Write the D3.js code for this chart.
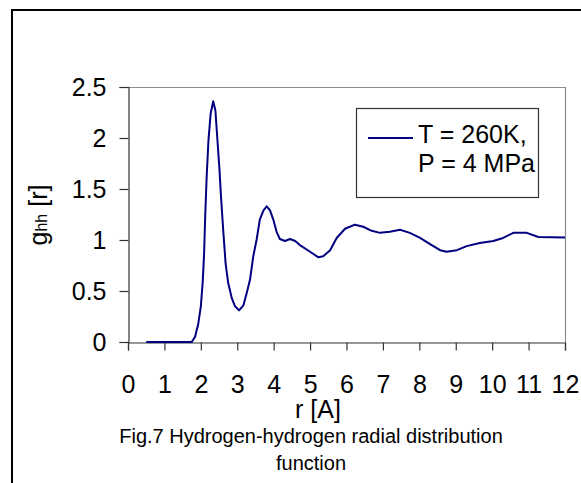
<!DOCTYPE html>
<html>
<head>
<meta charset="utf-8">
<script src="https://cdn.jsdelivr.net/npm/d3@7"></script>
<style>
  body { margin: 0; background: #fff; }
  svg { display: block; font-family: "Liberation Sans", Arial, sans-serif; }
</style>
</head>
<body>
<div id="chart"></div>
<script>
// r in Angstrom, g_hh(r)
let rVals = [0.5, 1.75, 1.84, 1.93, 2.0, 2.05, 2.09, 2.12, 2.16, 2.21, 2.27, 2.34, 2.40, 2.45, 2.51, 2.56, 2.62, 2.68, 2.75, 2.85, 2.94, 3.05, 3.17, 3.26, 3.35, 3.44, 3.53, 3.62, 3.72, 3.81, 3.90, 3.99, 4.08, 4.17, 4.31, 4.45, 4.59, 4.72, 5.0, 5.23, 5.36, 5.55, 5.73, 5.96, 6.23, 6.46, 6.69, 6.92, 7.19, 7.47, 7.74, 8.02, 8.34, 8.57, 8.75, 9.03, 9.30, 9.66, 10.03, 10.30, 10.58, 10.95, 11.27, 12.0];
let gVals = [0, 0, 0.05, 0.18, 0.35, 0.58, 0.87, 1.23, 1.62, 1.98, 2.24, 2.36, 2.27, 2.01, 1.70, 1.39, 1.07, 0.77, 0.58, 0.43, 0.35, 0.31, 0.36, 0.48, 0.61, 0.84, 1.00, 1.20, 1.29, 1.33, 1.29, 1.20, 1.08, 1.01, 0.99, 1.01, 0.99, 0.95, 0.885, 0.83, 0.84, 0.90, 1.02, 1.11, 1.15, 1.13, 1.09, 1.07, 1.08, 1.10, 1.07, 1.02, 0.95, 0.90, 0.885, 0.90, 0.94, 0.97, 0.99, 1.02, 1.07, 1.07, 1.03, 1.025];
let xTicks = [0, 1, 2, 3, 4, 5, 6, 7, 8, 9, 10, 11, 12];
let yTicks = [0, 0.5, 1, 1.5, 2, 2.5];
let legendLines = ["T = 260K,", "P = 4 MPa"];
let captionLines = ["Fig.7 Hydrogen-hydrogen radial distribution", "function"];

let data = rVals.map((r, i) => ({ r: r, g: gVals[i] }));

let W = 581, H = 483;
let plot = { left: 128, top: 87, right: 565, bottom: 342 };

let svg = d3.select("#chart").append("svg")
  .attr("width", W)
  .attr("height", H);

// outer frame (top and left edges visible)
svg.append("line").attr("x1", 11).attr("x2", W).attr("y1", 10).attr("y2", 10)
  .attr("stroke", "#000").attr("stroke-width", 2);
svg.append("line").attr("x1", 12).attr("x2", 12).attr("y1", 9).attr("y2", H)
  .attr("stroke", "#000").attr("stroke-width", 2);

let x = d3.scaleLinear().domain([0, 12]).range([plot.left, plot.right]);
let y = d3.scaleLinear().domain([0, 2.5]).range([plot.bottom, plot.top]);

// plot area border (top / right grey)
svg.append("path")
  .attr("d", `M${plot.left},${plot.top + 0.5}H${plot.right + 0.5}V${plot.bottom}`)
  .attr("fill", "none")
  .attr("stroke", "#8c8c8c")
  .attr("stroke-width", 1.2);

let yAxis = svg.append("g")
  .attr("transform", `translate(${plot.left + 0.5},0)`)
  .call(d3.axisLeft(y).tickValues(yTicks).tickSize(9).tickPadding(13).tickFormat(d => String(d)));

let xAxis = svg.append("g")
  .attr("transform", `translate(0,${plot.bottom + 0.5})`)
  .call(d3.axisBottom(x).tickValues(xTicks).tickSize(8).tickPadding(25).tickFormat(d => String(d)));

[xAxis, yAxis].forEach(a => {
  a.select(".domain").attr("stroke", "#333").attr("stroke-width", 1.2);
  a.selectAll(".tick line").attr("stroke", "#333").attr("stroke-width", 1.2);
  a.selectAll(".tick text")
    .attr("fill", "#000")
    .style("font-size", "25px")
    .style("font-family", "'Liberation Sans', Arial, sans-serif");
});

// curve
let line = d3.line()
  .x(d => x(d.r))
  .y(d => y(d.g));

svg.append("path")
  .datum(data)
  .attr("d", line)
  .attr("fill", "none")
  .attr("stroke", "#000080")
  .attr("stroke-width", 2)
  .attr("stroke-linejoin", "round");

// y axis title: g_hh [r]
let yTitle = svg.append("text")
  .attr("transform", "translate(47,215) rotate(-90)")
  .attr("text-anchor", "middle")
  .attr("fill", "#000")
  .style("font-size", "25px");
yTitle.append("tspan").text("g");
yTitle.append("tspan").style("font-size", "16px").text("hh");
yTitle.append("tspan").text(" [r]");

// x axis title
svg.append("text")
  .attr("x", 318)
  .attr("y", 418)
  .attr("text-anchor", "middle")
  .attr("fill", "#000")
  .style("font-size", "25px")
  .text("r [A]");

// caption
svg.selectAll(".caption")
  .data(captionLines)
  .enter()
  .append("text")
  .attr("class", "caption")
  .attr("x", 311)
  .attr("y", (d, i) => 443 + i * 27)
  .attr("text-anchor", "middle")
  .attr("fill", "#000")
  .style("font-size", "20px")
  .text(d => d);

// legend
let legend = svg.append("g");
legend.append("rect")
  .attr("x", 356.5).attr("y", 108.5)
  .attr("width", 182).attr("height", 89)
  .attr("fill", "#fff")
  .attr("stroke", "#333")
  .attr("stroke-width", 1.2);
legend.append("line")
  .attr("x1", 368).attr("x2", 413)
  .attr("y1", 138).attr("y2", 138)
  .attr("stroke", "#000080").attr("stroke-width", 2);
legend.selectAll(".legtext")
  .data(legendLines)
  .enter()
  .append("text")
  .attr("class", "legtext")
  .attr("x", 418)
  .attr("y", (d, i) => 143 + i * 29)
  .attr("fill", "#000")
  .style("font-size", "25px")
  .text(d => d);
</script>
</body>
</html>
